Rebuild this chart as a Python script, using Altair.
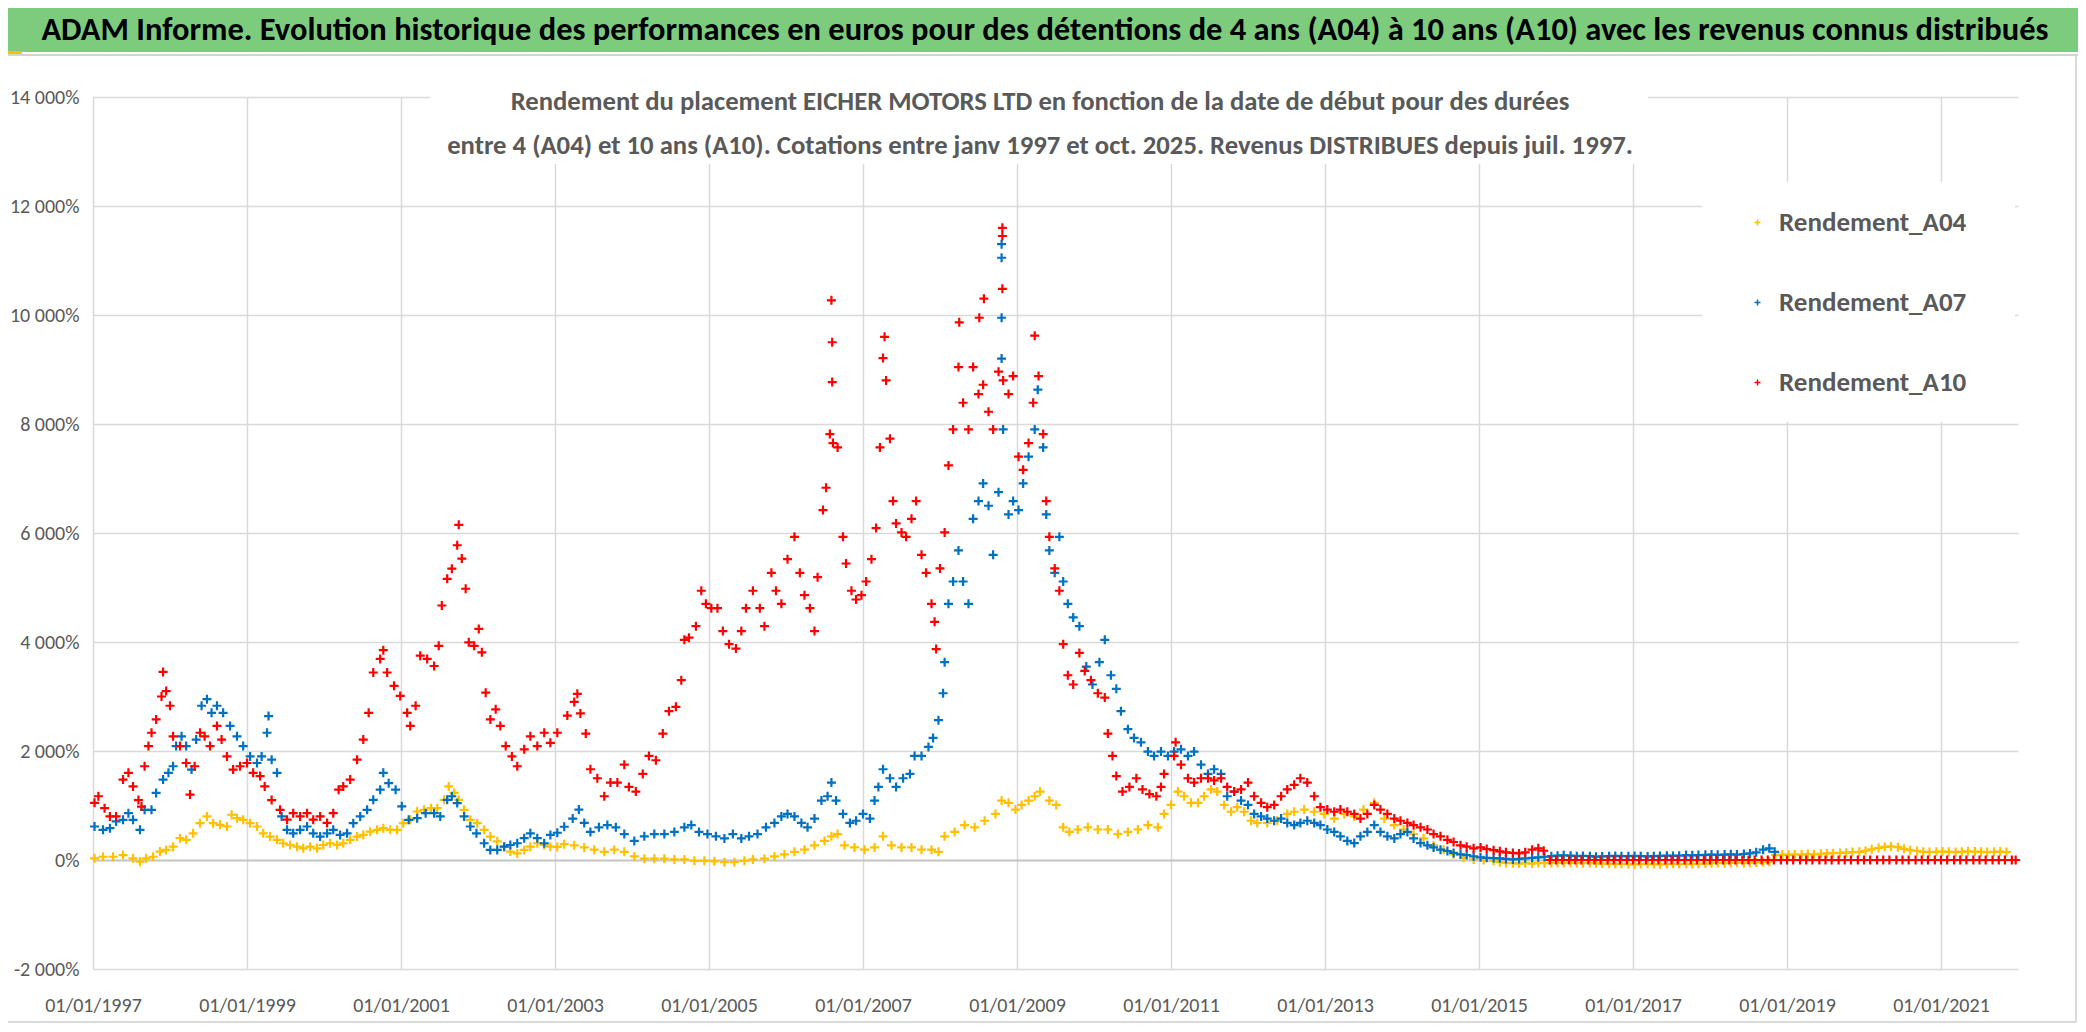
import altair as alt
import pandas as pd

# ---------------- data ----------------
series_names = ["Rendement_A04", "Rendement_A07", "Rendement_A10"]
series_colors = ["#FFC000", "#0070C0", "#FF0000"]

x_ticks = [1997, 1999, 2001, 2003, 2005, 2007, 2009, 2011, 2013, 2015, 2017, 2019, 2021]
y_ticks = [-2000, 0, 2000, 4000, 6000, 8000, 10000, 12000, 14000]

a04_annee = [1997.02, 1997.13, 1997.26, 1997.39, 1997.52, 1997.61, 1997.69, 1997.78, 1997.87, 1997.95,
             1998.04, 1998.13, 1998.21, 1998.30, 1998.39, 1998.48, 1998.56, 1998.65, 1998.74, 1998.80, 1998.87, 1998.95,
             1999.04, 1999.13, 1999.21, 1999.30, 1999.39, 1999.47, 1999.56, 1999.65, 1999.73, 1999.82, 1999.91, 1999.99,
             2000.08, 2000.17, 2000.25, 2000.34, 2000.43, 2000.51, 2000.60, 2000.69, 2000.77, 2000.86, 2000.95,
             2001.03, 2001.12, 2001.21, 2001.30, 2001.39, 2001.47, 2001.56, 2001.62, 2001.69, 2001.75, 2001.82, 2001.90, 2001.99,
             2002.08, 2002.16, 2002.25, 2002.34, 2002.42, 2002.51, 2002.60, 2002.68, 2002.77, 2002.86, 2002.94,
             2003.03, 2003.12, 2003.25, 2003.38, 2003.51, 2003.64, 2003.77, 2003.90,
             2004.03, 2004.16, 2004.29, 2004.42, 2004.55, 2004.68, 2004.81, 2004.94,
             2005.07, 2005.20, 2005.33, 2005.46, 2005.57, 2005.72, 2005.85, 2005.98,
             2006.11, 2006.24, 2006.37, 2006.50, 2006.59, 2006.67, 2006.76, 2006.89,
             2007.02, 2007.15, 2007.26, 2007.37, 2007.50, 2007.63, 2007.76, 2007.89, 2007.98,
             2008.06, 2008.19, 2008.32, 2008.45, 2008.58, 2008.72, 2008.80, 2008.89, 2008.98,
             2009.06, 2009.15, 2009.23, 2009.30, 2009.42, 2009.51, 2009.60, 2009.68, 2009.79, 2009.92,
             2010.05, 2010.18, 2010.31, 2010.44, 2010.57, 2010.70, 2010.83, 2010.91,
             2011.00, 2011.09, 2011.17, 2011.26, 2011.35, 2011.43, 2011.52, 2011.60, 2011.69, 2011.78, 2011.86, 2011.95,
             2012.04, 2012.12, 2012.25, 2012.38, 2012.51, 2012.60, 2012.73, 2012.86, 2012.99,
             2013.12, 2013.25, 2013.38, 2013.50, 2013.64, 2013.77, 2013.90,
             2014.02, 2014.15, 2014.28, 2014.41, 2014.54, 2014.67, 2014.80, 2014.93,
             2015.06, 2015.19, 2015.27, 2015.35, 2015.44, 2015.52, 2015.60, 2015.69, 2015.77, 2015.85, 2015.94,
             2016.02, 2016.10, 2016.19, 2016.27, 2016.35, 2016.44, 2016.52, 2016.60, 2016.69, 2016.77, 2016.85, 2016.94,
             2017.02, 2017.10, 2017.19, 2017.27, 2017.35, 2017.44, 2017.52, 2017.60, 2017.69, 2017.77, 2017.85, 2017.94,
             2018.02, 2018.10, 2018.19, 2018.27, 2018.35, 2018.44, 2018.52, 2018.60, 2018.69, 2018.77, 2018.85, 2018.94,
             2019.02, 2019.10, 2019.19, 2019.27, 2019.35, 2019.44, 2019.52, 2019.60, 2019.69, 2019.77, 2019.85, 2019.94,
             2020.02, 2020.10, 2020.19, 2020.27, 2020.35, 2020.44, 2020.52, 2020.60, 2020.69, 2020.77, 2020.85, 2020.94,
             2021.02, 2021.10, 2021.19, 2021.27, 2021.35, 2021.44, 2021.52, 2021.60, 2021.69, 2021.77, 2021.85]
a04_rendement = [30, 60, 60, 90, 30, -30, 30, 60, 155, 185,
                 245, 400, 370, 490, 675, 800, 675, 645, 615, 830, 768, 737,
                 675, 615, 490, 430, 370, 307, 275, 245, 215, 245, 215, 275,
                 307, 275, 307, 370, 430, 460, 520, 553, 584, 553, 553,
                 675, 737, 890, 920, 950, 950, 1105, 1350, 1230, 1105, 920, 737, 675,
                 553, 430, 340, 245, 155, 123, 185, 245, 307, 275, 245,
                 240, 290, 270, 230, 190, 150, 190, 150,
                 65, 25, 25, 25, 10, 10, -15, -15,
                 -25, -40, -40, -15, 10, 25, 65, 105,
                 150, 190, 270, 350, 435, 475, 270, 230,
                 190, 230, 435, 270, 230, 230, 190, 190, 150,
                 435, 515, 640, 600, 720, 845, 1090, 1050, 925,
                 1010, 1090, 1170, 1255, 1090, 1010, 600, 515, 560, 600,
                 560, 560, 475, 515, 560, 640, 600, 845,
                 1010, 1255, 1170, 1050, 1050, 1170, 1295, 1255, 1010, 885, 970, 885,
                 720, 680, 680, 720, 845, 885, 925, 885, 845,
                 760, 845, 800, 925, 1050, 760, 640,
                 560, 475, 395, 270, 190, 105, 40, 10,
                 0, -15, -40, -55, -60, -65, -60, -65, -55, -60, -55,
                 -50, -55, -50, -55, -60, -55, -60, -65, -70, -75, -70, -75,
                 -80, -75, -70, -75, -80, -75, -70, -75, -70, -75, -70, -65,
                 -60, -55, -60, -55, -50, -55, -50, -45, -40, -30, 90, 100,
                 95, 105, 100, 110, 105, 115, 120, 125, 130, 135, 145, 150,
                 170, 195, 220, 240, 250, 235, 205, 180, 165, 150, 145, 150,
                 155, 150, 145, 150, 160, 155, 150, 145, 150, 155, 145]

a07_annee = [1997.02, 1997.13, 1997.22, 1997.30, 1997.39, 1997.46, 1997.52, 1997.61, 1997.67, 1997.76, 1997.82, 1997.91, 1997.98,
             1998.04, 1998.08, 1998.15, 1998.21, 1998.28, 1998.34, 1998.41, 1998.48, 1998.54, 1998.61, 1998.69, 1998.78, 1998.87, 1998.95,
             1999.04, 1999.13, 1999.19, 1999.26, 1999.28, 1999.32, 1999.39, 1999.45, 1999.52, 1999.60, 1999.69, 1999.78, 1999.86, 1999.95,
             2000.04, 2000.12, 2000.21, 2000.30, 2000.38, 2000.47, 2000.56, 2000.64, 2000.73, 2000.77, 2000.84, 2000.93,
             2001.01, 2001.10, 2001.21, 2001.32, 2001.43, 2001.51, 2001.60, 2001.66, 2001.73, 2001.82, 2001.90, 2001.98,
             2002.08, 2002.16, 2002.25, 2002.34, 2002.42, 2002.51, 2002.60, 2002.68, 2002.77, 2002.86, 2002.94,
             2003.03, 2003.12, 2003.23, 2003.31, 2003.38, 2003.46, 2003.57, 2003.68, 2003.79, 2003.90,
             2004.03, 2004.16, 2004.29, 2004.42, 2004.55, 2004.68, 2004.77, 2004.87, 2004.98,
             2005.09, 2005.20, 2005.31, 2005.42, 2005.52, 2005.63, 2005.74, 2005.85, 2005.94,
             2006.02, 2006.11, 2006.20, 2006.28, 2006.37, 2006.46, 2006.54, 2006.59, 2006.65, 2006.74, 2006.83, 2006.91,
             2007.00, 2007.09, 2007.15, 2007.20, 2007.26, 2007.35, 2007.43, 2007.52, 2007.61, 2007.67, 2007.76, 2007.85, 2007.91, 2007.98,
             2008.04, 2008.06, 2008.11, 2008.17, 2008.24, 2008.30, 2008.37, 2008.43, 2008.50, 2008.56, 2008.63, 2008.69, 2008.76,
             2008.80, 2008.80, 2008.80, 2008.80, 2008.82, 2008.89, 2008.95,
             2009.02, 2009.08, 2009.15, 2009.23, 2009.27, 2009.34, 2009.38, 2009.42, 2009.49, 2009.55, 2009.60, 2009.66, 2009.73, 2009.81, 2009.90, 2009.98,
             2010.07, 2010.14, 2010.22, 2010.29, 2010.35, 2010.44, 2010.52, 2010.61, 2010.70, 2010.78, 2010.87, 2010.96,
             2011.04, 2011.13, 2011.22, 2011.30, 2011.39, 2011.48, 2011.56, 2011.65, 2011.73, 2011.82, 2011.91,
             2012.00, 2012.08, 2012.17, 2012.25, 2012.34, 2012.43, 2012.51, 2012.60, 2012.68, 2012.77, 2012.86, 2012.94,
             2013.03, 2013.12, 2013.20, 2013.29, 2013.38, 2013.46, 2013.55, 2013.64, 2013.72, 2013.81, 2013.90, 2013.98,
             2014.07, 2014.15, 2014.24, 2014.33, 2014.41, 2014.50, 2014.59, 2014.67, 2014.76, 2014.84, 2014.93,
             2015.02, 2015.10, 2015.19, 2015.27, 2015.35, 2015.44, 2015.52, 2015.60, 2015.69, 2015.77, 2015.85, 2015.94,
             2016.02, 2016.10, 2016.19, 2016.27, 2016.35, 2016.44, 2016.52, 2016.60, 2016.69, 2016.77, 2016.85, 2016.94,
             2017.02, 2017.10, 2017.19, 2017.27, 2017.35, 2017.44, 2017.52, 2017.60, 2017.69, 2017.77, 2017.85, 2017.94,
             2018.02, 2018.10, 2018.19, 2018.27, 2018.35, 2018.44, 2018.52, 2018.60, 2018.69, 2018.77, 2018.84]
a07_rendement = [615, 553, 584, 707, 737, 860, 737, 553, 920, 920, 1230, 1475, 1600,
                 1720, 2090, 2270, 2090, 1660, 2210, 2830, 2950, 2700, 2830, 2700, 2460, 2270, 2090,
                 1900, 1780, 1900, 2335, 2640, 1840, 1600, 800, 553, 490, 553, 615, 490, 430,
                 490, 553, 460, 490, 675, 800, 920, 1105, 1290, 1600, 1410, 1290,
                 985, 737, 768, 860, 860, 800, 1105, 1170, 1045, 800, 615, 490,
                 307, 185, 185, 245, 275, 307, 400, 490, 400, 307, 460,
                 500, 610, 760, 925, 680, 515, 600, 640, 600, 475,
                 350, 435, 475, 475, 515, 600, 640, 515, 475,
                 435, 395, 475, 395, 435, 475, 600, 680, 800,
                 845, 800, 680, 600, 760, 1090, 1170, 1420, 1090, 845, 680, 720,
                 845, 760, 1090, 1340, 1665, 1500, 1340, 1500, 1580, 1910, 1910, 2075, 2240, 2565,
                 3060, 3630, 4700, 5110, 5680, 5110, 4700, 6260, 6585, 6910, 6500, 5600, 6750,
                 11300, 11050, 9950, 9200, 7900, 6340, 6585,
                 6420, 6910, 7400, 7900, 8630, 7570, 6340, 5680, 5270, 5930, 5110, 4700, 4450, 4290, 3550, 3220,
                 3630, 4040, 3390, 3140, 2730, 2400, 2240, 2160, 1990, 1910, 1990, 1910,
                 1990, 2030, 1910, 1990, 1750, 1580, 1665, 1580, 1170, 1255, 1090,
                 1010, 845, 800, 760, 720, 760, 680, 640, 680, 720, 680, 640,
                 560, 515, 435, 350, 310, 435, 515, 640, 515, 435, 395, 475,
                 515, 395, 310, 270, 230, 190, 165, 130, 105, 90, 65,
                 50, 40, 35, 30, 20, 10, 20, 30, 40, 50, 60, 70,
                 80, 85, 80, 70, 75, 70, 60, 65, 70, 75, 70, 70,
                 75, 70, 65, 70, 75, 80, 75, 80, 90, 85, 90, 95,
                 100, 95, 100, 105, 100, 110, 120, 140, 190, 215, 150]

a10_annee = [1997.02, 1997.07, 1997.15, 1997.22, 1997.30, 1997.39, 1997.46, 1997.52, 1997.59, 1997.63, 1997.67, 1997.72, 1997.76, 1997.82, 1997.89, 1997.91, 1997.95,
             1998.00, 1998.04, 1998.13, 1998.21, 1998.26, 1998.32, 1998.39, 1998.45, 1998.52, 1998.61, 1998.67, 1998.74, 1998.82, 1998.91,
             1999.00, 1999.08, 1999.17, 1999.23, 1999.32, 1999.43, 1999.52, 1999.60, 1999.69, 1999.78, 1999.86, 1999.95,
             2000.04, 2000.12, 2000.19, 2000.25, 2000.34, 2000.43, 2000.51, 2000.58, 2000.64, 2000.73, 2000.77, 2000.82, 2000.91, 2000.99,
             2001.08, 2001.12, 2001.19, 2001.25, 2001.34, 2001.43, 2001.49, 2001.53, 2001.60, 2001.66, 2001.73, 2001.75, 2001.79, 2001.84, 2001.88, 2001.95,
             2002.01, 2002.05, 2002.10, 2002.16, 2002.23, 2002.29, 2002.36, 2002.44, 2002.51, 2002.60, 2002.68, 2002.77, 2002.86, 2002.94,
             2003.03, 2003.16, 2003.25, 2003.29, 2003.33, 2003.40, 2003.46, 2003.55, 2003.64, 2003.72, 2003.81, 2003.90, 2003.96,
             2004.05, 2004.14, 2004.22, 2004.31, 2004.40, 2004.48, 2004.57, 2004.64, 2004.68, 2004.74, 2004.83, 2004.90, 2004.96,
             2005.03, 2005.11, 2005.18, 2005.26, 2005.35, 2005.42, 2005.48, 2005.57, 2005.66, 2005.72, 2005.81, 2005.87, 2005.94,
             2006.02, 2006.11, 2006.18, 2006.24, 2006.31, 2006.37, 2006.41, 2006.48, 2006.52, 2006.57, 2006.59, 2006.60, 2006.60, 2006.61,
             2006.67, 2006.74, 2006.78, 2006.85, 2006.91, 2006.98,
             2007.04, 2007.11, 2007.17, 2007.22, 2007.26, 2007.28, 2007.30, 2007.35, 2007.39, 2007.43, 2007.50, 2007.56, 2007.63, 2007.69,
             2007.76, 2007.82, 2007.89, 2007.93, 2007.95,
             2008.00, 2008.06, 2008.11, 2008.17, 2008.24, 2008.25, 2008.30, 2008.37, 2008.43, 2008.50, 2008.51, 2008.56, 2008.57, 2008.63,
             2008.69, 2008.76, 2008.81, 2008.81, 2008.81, 2008.82, 2008.89, 2008.95,
             2009.02, 2009.08, 2009.15, 2009.21, 2009.23, 2009.28, 2009.34, 2009.38, 2009.42, 2009.49, 2009.55, 2009.60, 2009.66, 2009.73,
             2009.81, 2009.88, 2009.96,
             2010.05, 2010.14, 2010.18, 2010.24, 2010.29, 2010.37, 2010.46, 2010.55, 2010.63, 2010.72, 2010.81, 2010.87, 2010.91,
             2011.04, 2011.06, 2011.13, 2011.22, 2011.30, 2011.39, 2011.48, 2011.56, 2011.65, 2011.73, 2011.82, 2011.91,
             2012.00, 2012.08, 2012.17, 2012.25, 2012.34, 2012.43, 2012.51, 2012.60, 2012.68, 2012.77, 2012.86, 2012.94,
             2013.03, 2013.12, 2013.20, 2013.29, 2013.38, 2013.46, 2013.55, 2013.64, 2013.72, 2013.81, 2013.90, 2013.98,
             2014.07, 2014.15, 2014.24, 2014.33, 2014.41, 2014.50, 2014.59, 2014.67, 2014.76, 2014.84, 2014.93,
             2015.02, 2015.10, 2015.19, 2015.27, 2015.35, 2015.44, 2015.52, 2015.60, 2015.69, 2015.77, 2015.84, 2015.92,
             2016.00, 2016.08, 2016.17, 2016.25, 2016.33, 2016.42, 2016.50, 2016.58, 2016.67, 2016.75, 2016.83, 2016.92,
             2017.00, 2017.08, 2017.17, 2017.25, 2017.33, 2017.42, 2017.50, 2017.58, 2017.67, 2017.75, 2017.83, 2017.92,
             2018.00, 2018.08, 2018.17, 2018.25, 2018.33, 2018.42, 2018.50, 2018.58, 2018.67, 2018.75, 2018.83, 2018.92,
             2019.00, 2019.08, 2019.17, 2019.25, 2019.33, 2019.42, 2019.50, 2019.58, 2019.67, 2019.75, 2019.83, 2019.92,
             2020.00, 2020.08, 2020.17, 2020.25, 2020.33, 2020.42, 2020.50, 2020.58, 2020.67, 2020.75, 2020.83, 2020.92,
             2021.00, 2021.08, 2021.17, 2021.25, 2021.33, 2021.42, 2021.50, 2021.58, 2021.67, 2021.75, 2021.83, 2021.92, 2021.97]
a10_rendement = [1050, 1170, 950, 800, 800, 1475, 1600, 1350, 1100, 980, 1720, 2090, 2335, 2580, 3000, 3450, 3100,
                 2830, 2270, 2090, 1780, 1200, 1720, 2335, 2270, 2090, 2460, 2210, 1900, 1660, 1720,
                 1780, 1600, 1540, 1350, 1100, 920, 740, 860, 800, 860, 740, 800,
                 680, 860, 1290, 1350, 1475, 1840, 2210, 2700, 3440, 3690, 3850, 3440, 3195, 3010,
                 2700, 2460, 2830, 3750, 3690, 3560, 3930, 4670, 5160, 5345, 5775, 6150, 5530, 4977, 3994, 3930,
                 4240, 3810, 3070, 2580, 2765, 2460, 2090, 1900, 1720, 2030, 2270, 2090, 2335, 2150,
                 2335, 2650, 2900, 3050, 2690, 2320, 1665, 1500, 1170, 1420, 1420, 1750, 1340,
                 1255, 1580, 1910, 1830, 2320, 2730, 2810, 3300, 4040, 4080, 4290, 4940, 4700,
                 4620, 4620, 4200, 3960, 3880, 4200, 4620, 4940, 4620, 4290, 5270, 4940, 4700,
                 5520, 5930, 5270, 4860, 4620, 4200, 5190, 6420, 6830, 7815, 10270, 9500, 8770, 7650,
                 7570, 5930, 5440, 4940, 4780, 4860,
                 5110, 5520, 6090, 7570, 9210, 9600, 8800, 7730, 6585, 6175, 6010, 5930, 6260, 6585,
                 5600, 5270, 4700, 4370, 3870,
                 5350, 6010, 7240, 7900, 9045, 9865, 8390, 7900, 9045, 8550, 9950, 8720, 10300, 8225,
                 7900, 8960, 11600, 11450, 10480, 8800, 8550, 8880,
                 7400, 7160, 7650, 8390, 9620, 8880, 7815, 6585, 5930, 5350, 4940, 3960, 3390, 3220,
                 3800, 3470, 3300,
                 3060, 2980, 2320, 1910, 1540, 1255, 1340, 1500, 1295, 1210, 1170, 1340, 1580,
                 1910, 2160, 1750, 1500, 1420, 1500, 1500, 1460, 1500, 1340, 1255, 1295,
                 1420, 1170, 1050, 970, 1010, 1170, 1295, 1380, 1500, 1420, 1170, 970,
                 925, 885, 925, 885, 845, 760, 845, 1010, 925, 845, 760, 720,
                 680, 640, 600, 560, 475, 435, 370, 330, 270, 245, 215,
                 230, 200, 180, 160, 140, 130, 120, 140, 190, 215, 170, 0,
                 0, 0, 0, 0, 0, 0, 0, 0, 0, 0, 0, 0,
                 0, 0, 0, 0, 0, 0, 0, 0, 0, 0, 0, 0,
                 0, 0, 0, 0, 0, 0, 0, 0, 0, 0, 0, 0,
                 0, 0, 0, 0, 0, 0, 0, 0, 0, 0, 0, 0,
                 0, 0, 0, 0, 0, 0, 0, 0, 0, 0, 0, 0,
                 0, 0, 0, 0, 0, 0, 0, 0, 0, 0, 0, 0, 0]

title_text = ("ADAM Informe. Evolution historique des performances en euros pour des détentions "
              "de 4 ans (A04) à 10 ans (A10) avec les revenus connus distribués")
subtitle_lines = ["Rendement du placement EICHER MOTORS LTD en fonction de la date de début pour des durées",
                  "entre 4 (A04) et 10 ans (A10). Cotations entre janv 1997 et oct. 2025. Revenus DISTRIBUES depuis juil. 1997."]

# ---------------- build table ----------------
rows = []
for name, yrs, vals in zip(series_names,
                           [a04_annee, a07_annee, a10_annee],
                           [a04_rendement, a07_rendement, a10_rendement]):
    for t, v in zip(yrs, vals):
        rows.append({"serie": name, "annee": t, "rendement": v})
df = pd.DataFrame(rows)
one = pd.DataFrame({"k": [0]})

FONT = "Carlito, Calibri, Liberation Sans, sans-serif"
GRAY = "#595959"
PLUS = "M-1,0H1M0,-1V1"

W, H = 1925, 872

y_label = "(datum.value < 0 ? '-' : '') + replace(format(abs(datum.value), ',d'), ',', ' ') + '%'"

points = alt.Chart(df).mark_point(
    shape=PLUS, filled=False, size=81, strokeWidth=2.2, opacity=1
).encode(
    x=alt.X("annee:Q",
            scale=alt.Scale(domain=[1997, 2022], nice=False, zero=False),
            axis=alt.Axis(values=x_ticks, labelExpr="'01/01/' + datum.value", title=None,
                          grid=True, gridColor="#d9d9d9", gridWidth=1.5,
                          ticks=False, domain=False, labelFlush=False, labelOverlap=False,
                          labelFont=FONT, labelFontSize=20, labelColor=GRAY,
                          labelBaseline="alphabetic", labelPadding=42)),
    y=alt.Y("rendement:Q",
            scale=alt.Scale(domain=[-2000, 14000], nice=False, zero=False),
            axis=alt.Axis(values=y_ticks, labelExpr=y_label, title=None,
                          grid=True,
                          gridColor=alt.condition("datum.value === 0", alt.value("#c4c4c4"), alt.value("#d9d9d9")),
                          gridWidth=alt.condition("datum.value === 0", alt.value(2), alt.value(1.5)),
                          ticks=False, domain=False, labelOverlap=False,
                          labelFont=FONT, labelFontSize=20, labelColor=GRAY, labelPadding=14)),
    color=alt.Color("serie:N",
                    scale=alt.Scale(domain=series_names, range=series_colors),
                    legend=alt.Legend(title=None, orient="none", legendX=1651, legendY=112,
                                      symbolType=PLUS, symbolSize=36, symbolStrokeWidth=1.5,
                                      labelFont=FONT, labelFontSize=27, labelFontWeight="bold",
                                      labelColor=GRAY, labelLimit=0,
                                      labelOffset=8, rowPadding=52, padding=0)),
)

banner = alt.Chart(one).mark_rect(color="#7DCB7D").encode(
    x=alt.value(-85), x2=alt.value(1985), y=alt.value(-89), y2=alt.value(-45))
banner_line = alt.Chart(one).mark_rect(color="#d4d4d4").encode(
    x=alt.value(-85), x2=alt.value(1985), y=alt.value(-43), y2=alt.value(-41))
handle = alt.Chart(one).mark_rect(color="#FFC000").encode(
    x=alt.value(-85), x2=alt.value(-71), y=alt.value(-46), y2=alt.value(-43))
right_border = alt.Chart(one).mark_rule(color="#d9d9d9", strokeWidth=2).encode(
    x=alt.value(1983), y=alt.value(-41), y2=alt.value(925))
bottom_border = alt.Chart(one).mark_rule(color="#d9d9d9", strokeWidth=2).encode(
    x=alt.value(-85), x2=alt.value(1983), y=alt.value(925))

subtitle_box = alt.Chart(one).mark_rect(color="white").encode(
    x=alt.value(337), x2=alt.value(1555), y=alt.value(-19), y2=alt.value(67))
legend_box = alt.Chart(one).mark_rect(color="white").encode(
    x=alt.value(1609), x2=alt.value(1922), y=alt.value(85), y2=alt.value(325))

title = alt.Chart(one).mark_text(
    text=title_text, font=FONT, fontSize=32.5, fontWeight="bold", color="black",
    align="center", baseline="alphabetic"
).encode(x=alt.value(952), y=alt.value(-57))

subtitle = alt.Chart(one).mark_text(
    text=subtitle_lines, font=FONT, fontSize=26.7, fontWeight="bold", color=GRAY, lineHeight=44,
    align="center", baseline="alphabetic"
).encode(x=alt.value(947), y=alt.value(13))

chart = alt.layer(
    subtitle_box, legend_box, banner, banner_line, handle, right_border, bottom_border,
    title, subtitle, points
).properties(
    width=W, height=H,
    padding={"left": 85, "top": 89, "right": 60, "bottom": 55},
    autosize=alt.AutoSizeParams(type="none"),
    background="white",
).configure_view(stroke=None)

chart.save("out.html", embed_options={"renderer": "svg", "actions": False})
